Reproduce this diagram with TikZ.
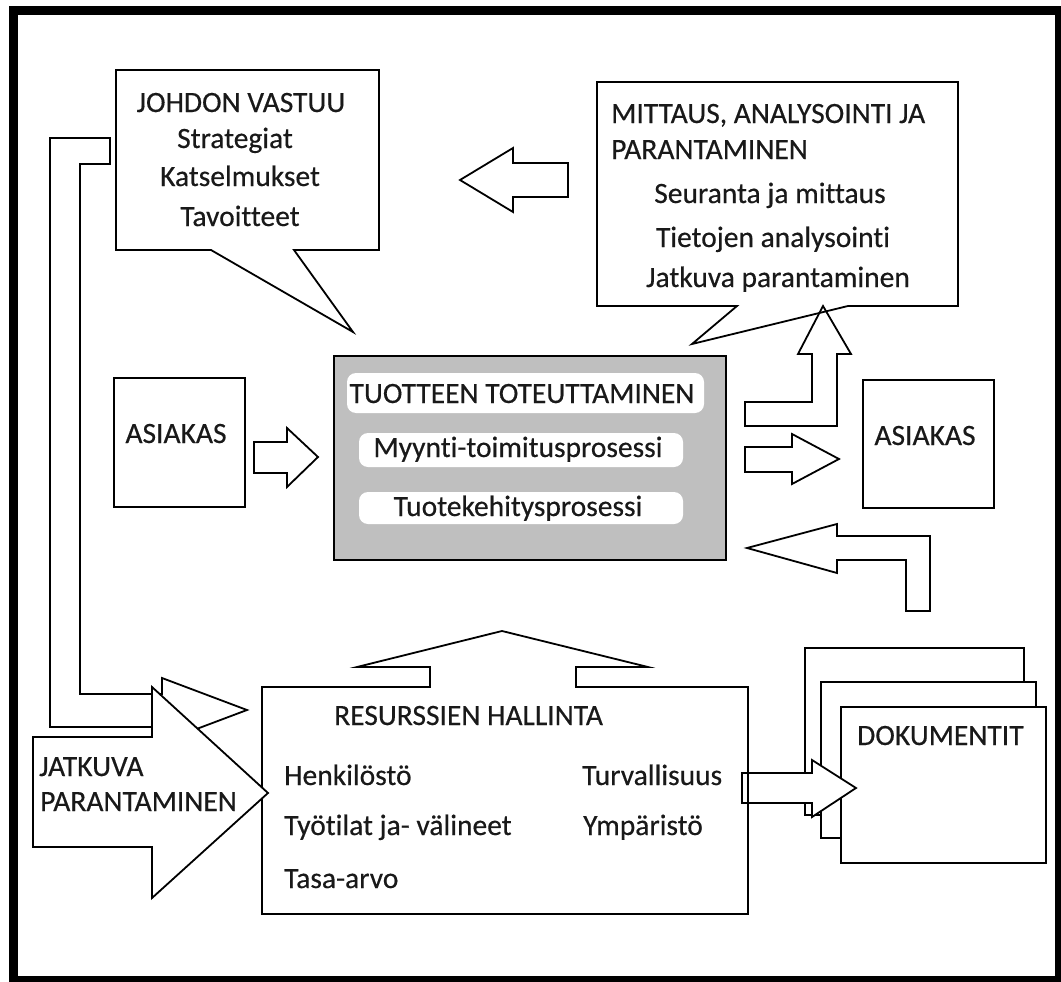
\documentclass[tikz,border=0pt]{standalone}
\usepackage{fontspec}
\setmainfont{Carlito}[RawFeature={-liga;-clig;-dlig},UprightFeatures={FakeBold=0.4}]
\begin{document}
\begin{tikzpicture}[x=1pt,y=-1pt,
  ln/.style={draw=black,line width=1.8pt,line join=miter},
  wbox/.style={ln,fill=white},
  gbox/.style={ln,fill=black!25},
  blob/.style={fill=white,rounded corners=9pt},
  txt/.style={font=\fontsize{29.5}{34}\selectfont,inner sep=0pt,text=black!90},
  ctxt/.style={txt,anchor=base},
  ltxt/.style={txt,anchor=base west}]
\useasboundingbox (0,0) rectangle (1061,982);
\clip (0,0) rectangle (1061,982);
\fill[white] (0,0) rectangle (1061,982);
% outer frame
\draw[line width=9pt] (13.5,11) rectangle (1059,980);

% JOHDON VASTUU callout
\draw[wbox] (116,70) -- (379,70) -- (379,250) -- (294,250) -- (353,332) -- (211,250) -- (116,250) -- cycle;
\node[ctxt] (jv1) at (241,112) {JOHDON VASTUU};
\node[ctxt] (jv2) at (235,148) {Strategiat};
\node[ctxt] (jv3) at (240,186) {Katselmukset};
\node[ctxt] (jv4) at (240,226) {Tavoitteet};

% MITTAUS callout
\draw[wbox] (597,82) -- (958,82) -- (958,306) -- (848,306) -- (692,344) -- (737,306) -- (597,306) -- cycle;
\node[ltxt] (ma1) at (611,123) {MITTAUS, ANALYSOINTI JA};
\node[ltxt] (ma2) at (611,159) {PARANTAMINEN};
\node[ctxt] (ma3) at (770,203) {Seuranta ja mittaus};
\node[ctxt] (ma4) at (773,247) {Tietojen analysointi};
\node[ctxt] (ma5) at (778,287) {Jatkuva parantaminen};

% arrow MITTAUS -> JOHDON
\draw[wbox] (460,180) -- (513,148) -- (513,163) -- (568,163) -- (568,197) -- (513,197) -- (513,212) -- cycle;

% left ASIAKAS
\draw[wbox] (114,378) rectangle (245,507);
\node[ctxt] (as1) at (176,443) {ASIAKAS};
\draw[wbox] (254,442) -- (287,442) -- (287,428) -- (318,457) -- (287,487) -- (287,473) -- (254,473) -- cycle;

% central grey box
\draw[gbox] (334,356) rectangle (726,560);
\fill[blob] (347,373) rectangle (704,413);
\fill[blob] (359,433) rectangle (683,467);
\fill[blob] (359,492) rectangle (683,524);
\node[ctxt] (tt1) at (522,403) {TUOTTEEN TOTEUTTAMINEN};
\node[ctxt] (tt2) at (518,457) {Myynti-toimitusprosessi};
\node[ctxt] (tt3) at (518,516) {Tuotekehitysprosessi};

% up L-arrow to MITTAUS
\draw[ln] (823,306) -- (851,354) -- (837,354) -- (837,426) -- (745,426) -- (745,402) -- (812,402) -- (812,354) -- (798,354) -- cycle;

% arrow to right ASIAKAS
\draw[wbox] (745,447) -- (792,447) -- (792,434) -- (839,459) -- (792,484) -- (792,472) -- (745,472) -- cycle;
\draw[wbox] (863,380) rectangle (994,508);
\node[ctxt] (as2) at (925,445) {ASIAKAS};

% return L-arrow into grey box
\draw[wbox] (747,548) -- (837,524) -- (837,536) -- (930,536) -- (930,611) -- (906,611) -- (906,560) -- (837,560) -- (837,573) -- cycle;

% RESURSSIEN HALLINTA box with up arrow
\draw[wbox] (262,687) -- (430,687) -- (430,667) -- (357,667) -- (502,631) -- (648,667) -- (576,667) -- (576,687) -- (748,687) -- (748,914) -- (262,914) -- cycle;
\node[ltxt] (rh1) at (334,725) {RESURSSIEN HALLINTA};
\node[ltxt] (rh2) at (284,785) {Henkilöstö};
\node[ltxt] (rh3) at (284,835) {Työtilat ja- välineet};
\node[ltxt] (rh4) at (284,888) {Tasa-arvo};
\node[ltxt] (rh5) at (582,785) {Turvallisuus};
\node[ltxt] (rh6) at (583,835) {Ympäristö};

% L-arrow from JOHDON down to RESURSSIEN
\draw[wbox] (110,138) -- (50,138) -- (50,727) -- (162,727) -- (162,742) -- (247,710) -- (162,678) -- (162,694) -- (80,694) -- (80,164) -- (110,164) -- cycle;

% big JATKUVA PARANTAMINEN arrow
\draw[wbox] (33,737) -- (152,737) -- (152,687) -- (268,793) -- (152,898) -- (152,847) -- (33,847) -- cycle;
\node[ltxt] (jp1) at (39,776) {JATKUVA};
\node[ltxt] (jp2) at (40,811) {PARANTAMINEN};

% documents
\draw[wbox] (805,648) rectangle (1024,815);
\draw[wbox] (821,682) rectangle (1036,838);
\draw[wbox] (841,707) rectangle (1046,863);
\node[ltxt] (dok) at (857,745) {DOKUMENTIT};

% arrow to documents
\draw[wbox] (742,773) -- (812,773) -- (812,760) -- (856,788) -- (812,817) -- (812,803) -- (742,803) -- cycle;
\draw[ln] (748,765) -- (748,810);
\end{tikzpicture}
\end{document}
